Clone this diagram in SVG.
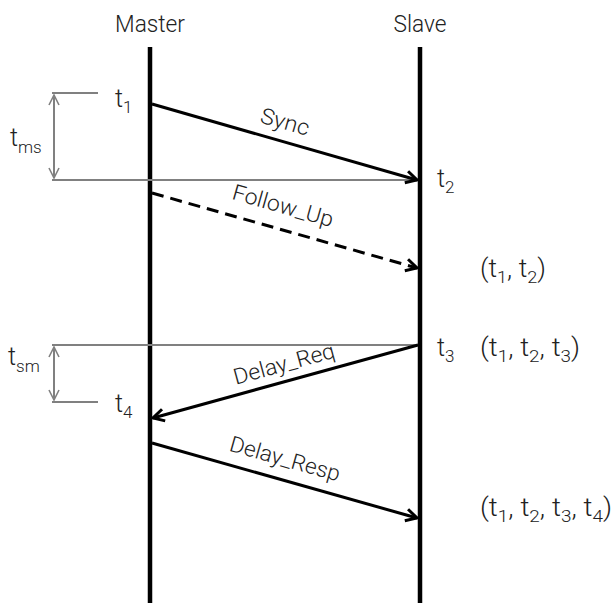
<svg xmlns="http://www.w3.org/2000/svg" width="614" height="603" viewBox="0 0 614 603">
<style>
.t{font-family:Roboto,"Liberation Sans",sans-serif;font-weight:300;fill:#222;font-size:25px}
.hd{font-size:24px}
.lbl{font-family:Roboto,"Liberation Sans",sans-serif;font-weight:300;fill:#222;font-size:22px;text-anchor:middle}
.s{font-size:17px}
.life{stroke:#000;stroke-width:4.5;fill:none}
.msg{stroke:#000;stroke-width:3;fill:none}
.grey{stroke:#808080;stroke-width:2;fill:none}
</style>
<defs>
<marker id="ah" markerUnits="userSpaceOnUse" markerWidth="16" markerHeight="16" refX="12" refY="7" orient="auto" viewBox="0 0 16 14">
<path d="M1,1 L12,7 L1,13" fill="none" stroke="#000" stroke-width="3"/>
</marker>
<marker id="gh" markerUnits="userSpaceOnUse" markerWidth="14" markerHeight="14" refX="11" refY="6" orient="auto-start-reverse" viewBox="0 0 14 12">
<path d="M1,1 L11,6 L1,11" fill="none" stroke="#808080" stroke-width="1.6"/>
</marker>
</defs>
<g id="master">
<text class="t hd" x="150" y="32" text-anchor="middle" textLength="70" lengthAdjust="spacingAndGlyphs">Master</text>
<line class="life" x1="150" y1="47" x2="150" y2="603"/>
</g>
<g id="slave">
<text class="t hd" x="420" y="32" text-anchor="middle" textLength="53" lengthAdjust="spacingAndGlyphs">Slave</text>
<line class="life" x1="420" y1="47" x2="420" y2="603"/>
</g>
<g id="timing">
<line class="grey" x1="52" y1="93" x2="98" y2="93"/>
<line class="grey" x1="52" y1="180" x2="418" y2="180"/>
<line class="grey" x1="54" y1="95" x2="54" y2="178" marker-start="url(#gh)" marker-end="url(#gh)"/>
<line class="grey" x1="52" y1="345" x2="418" y2="345"/>
<line class="grey" x1="52" y1="402" x2="98" y2="402"/>
<line class="grey" x1="54" y1="347" x2="54" y2="400" marker-start="url(#gh)" marker-end="url(#gh)"/>
<text class="t" x="10" y="146">t<tspan class="s" dy="7">ms</tspan></text>
<text class="t" x="8" y="365">t<tspan class="s" dy="7">sm</tspan></text>
</g>
<g id="labels">
<text class="t" x="115" y="107">t<tspan class="s" dy="6">1</tspan></text>
<text class="t" x="437" y="187">t<tspan class="s" dy="6">2</tspan></text>
<text class="t" x="480" y="277" textLength="66" lengthAdjust="spacingAndGlyphs">(t<tspan class="s" dy="6">1</tspan><tspan dy="-6">, t</tspan><tspan class="s" dy="6">2</tspan><tspan dy="-6">)</tspan></text>
<text class="t" x="437" y="356">t<tspan class="s" dy="6">3</tspan></text>
<text class="t" x="480" y="356" textLength="100" lengthAdjust="spacingAndGlyphs">(t<tspan class="s" dy="6">1</tspan><tspan dy="-6">, t</tspan><tspan class="s" dy="6">2</tspan><tspan dy="-6">, t</tspan><tspan class="s" dy="6">3</tspan><tspan dy="-6">)</tspan></text>
<text class="t" x="115" y="412">t<tspan class="s" dy="6">4</tspan></text>
<text class="t" x="480" y="516" textLength="132" lengthAdjust="spacingAndGlyphs">(t<tspan class="s" dy="6">1</tspan><tspan dy="-6">, t</tspan><tspan class="s" dy="6">2</tspan><tspan dy="-6">, t</tspan><tspan class="s" dy="6">3</tspan><tspan dy="-6">, t</tspan><tspan class="s" dy="6">4</tspan><tspan dy="-6">)</tspan></text>
</g>
<g id="connectors">
<line class="msg" x1="152" y1="104" x2="417" y2="180" marker-end="url(#ah)"/>
<line class="msg" x1="152" y1="193" x2="417" y2="268" stroke-dasharray="12,7" marker-end="url(#ah)"/>
<line class="msg" x1="418" y1="345" x2="153" y2="418" marker-end="url(#ah)"/>
<line class="msg" x1="152" y1="443" x2="417" y2="518" marker-end="url(#ah)"/>
<text class="lbl" transform="translate(283,129) rotate(15.9)" textLength="50" lengthAdjust="spacingAndGlyphs">Sync</text>
<text class="lbl" transform="translate(281,213) rotate(15.9)" textLength="104" lengthAdjust="spacingAndGlyphs">Follow_Up</text>
<text class="lbl" transform="translate(286,371) rotate(-15.3)" textLength="104" lengthAdjust="spacingAndGlyphs">Delay_Req</text>
<text class="lbl" transform="translate(283,466) rotate(15.8)" textLength="114" lengthAdjust="spacingAndGlyphs">Delay_Resp</text>
</g>
</svg>
